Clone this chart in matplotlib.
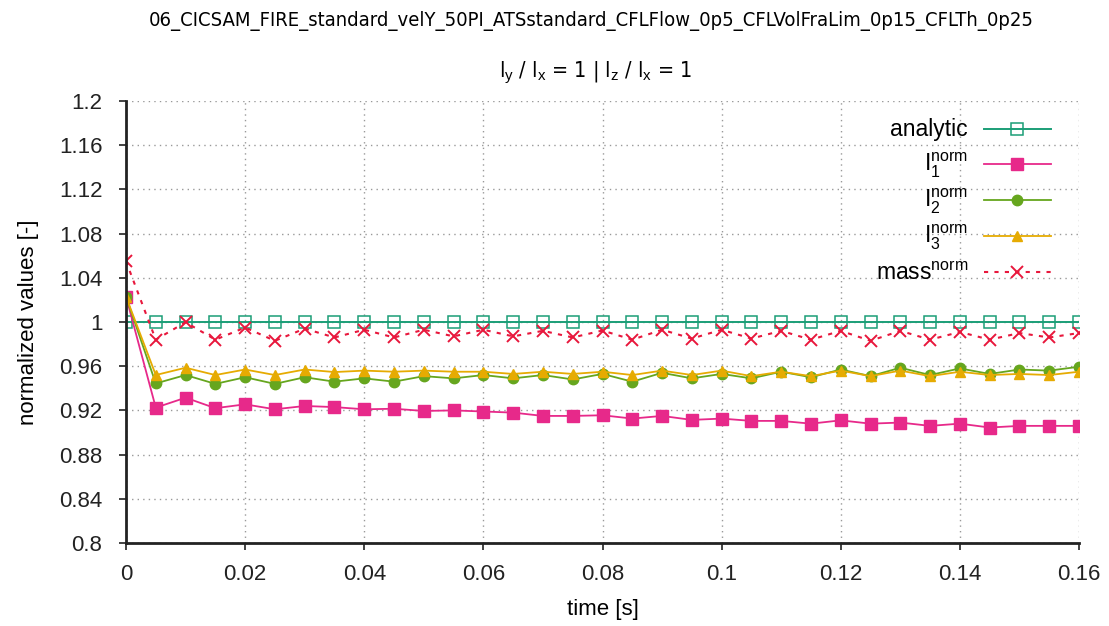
"""
Normalized moments of inertia and mass over time (gnuplot-like look).
"""

import numpy as np
import matplotlib
matplotlib.use("Agg")
import matplotlib.pyplot as plt
from matplotlib.lines import Line2D
from matplotlib import font_manager

plt.rcParams["font.family"] = ["Liberation Sans", "DejaVu Sans"]
plt.rcParams["mathtext.fontset"] = "custom"
plt.rcParams["mathtext.rm"] = "Liberation Sans"
plt.rcParams["mathtext.it"] = "Liberation Sans"
plt.rcParams["mathtext.sf"] = "Liberation Sans"

# ---- data ----
time = np.arange(33) * 0.005

analytic = [1.0] * 33

i1_norm = [1.023, 0.9225, 0.9315, 0.922, 0.9255, 0.921, 0.924, 0.923, 0.921,
           0.9215, 0.9195, 0.920, 0.919, 0.918, 0.915, 0.915, 0.9156, 0.9126,
           0.915, 0.9114, 0.9126, 0.9105, 0.9105, 0.908, 0.911, 0.908, 0.909,
           0.906, 0.908, 0.9045, 0.906, 0.906, 0.906]

i2_norm = [1.023, 0.9444, 0.952, 0.944, 0.950, 0.944, 0.950, 0.946, 0.949,
           0.946, 0.951, 0.949, 0.952, 0.949, 0.952, 0.948, 0.953, 0.946,
           0.954, 0.949, 0.953, 0.949, 0.955, 0.950, 0.957, 0.951, 0.9586,
           0.952, 0.958, 0.953, 0.957, 0.956, 0.9595]

i3_norm = [1.023, 0.952, 0.9586, 0.952, 0.957, 0.952, 0.957, 0.9547, 0.956,
           0.955, 0.956, 0.955, 0.955, 0.953, 0.955, 0.953, 0.955, 0.952,
           0.956, 0.952, 0.956, 0.951, 0.955, 0.951, 0.956, 0.951, 0.956,
           0.951, 0.955, 0.952, 0.953, 0.952, 0.955]

mass_norm = [1.055, 0.984, 0.9998, 0.984, 0.995, 0.983, 0.994, 0.986, 0.993,
             0.986, 0.993, 0.987, 0.993, 0.987, 0.992, 0.986, 0.9923, 0.984,
             0.993, 0.985, 0.993, 0.985, 0.992, 0.984, 0.992, 0.983, 0.992,
             0.984, 0.991, 0.984, 0.990, 0.986, 0.990]

x_ticks = [0, 0.02, 0.04, 0.06, 0.08, 0.1, 0.12, 0.14, 0.16]
x_tick_labels = ["0", "0.02", "0.04", "0.06", "0.08", "0.1", "0.12", "0.14", "0.16"]
y_ticks = [0.8, 0.84, 0.88, 0.92, 0.96, 1.0, 1.04, 1.08, 1.12, 1.16, 1.2]
y_tick_labels = ["0.8", "0.84", "0.88", "0.92", "0.96", "1", "1.04", "1.08",
                 "1.12", "1.16", "1.2"]

title = "06_CICSAM_FIRE_standard_velY_50PI_ATSstandard_CFLFlow_0p5_CFLVolFraLim_0p15_CFLTh_0p25"
subtitle = r"l$_\mathrm{y}$ / l$_\mathrm{x}$ = 1 | l$_\mathrm{z}$ / l$_\mathrm{x}$ = 1"

series = [
    # label, values, style
    ("analytic", analytic,
     dict(color="#1b9e77", lw=1.4, marker="s", ms=8, mfc="none", mew=1.1)),
    (r"I$_\mathrm{1}^\mathrm{norm}$", i1_norm,
     dict(color="#e7298a", lw=1.3, marker="s", ms=8)),
    (r"I$_\mathrm{2}^\mathrm{norm}$", i2_norm,
     dict(color="#66a61e", lw=1.3, marker="o", ms=7.5)),
    (r"I$_\mathrm{3}^\mathrm{norm}$", i3_norm,
     dict(color="#e6ab02", lw=1.3, marker="^", ms=7.5)),
    (r"mass$^\mathrm{norm}$", mass_norm,
     dict(color="#e8173c", lw=1.5, ls=(0, (2, 3)), marker="x", ms=8, mew=1.4)),
]

# condensed face for the title if the system has one
narrow = ["DejaVu Sans", "Liberation Sans"]
try:
    names = {f.name for f in font_manager.fontManager.ttflist if "Narrow" in f.name}
    if "Liberation Sans Narrow" in names:
        narrow = ["Liberation Sans Narrow", "Liberation Sans"]
except Exception:
    pass

fig = plt.figure(figsize=(11.09, 6.26), dpi=100)
ax = fig.add_axes([126 / 1109, 1 - 543 / 626, (1079 - 126) / 1109, (543 - 101) / 626])

for label, vals, style in series:
    ax.plot(time, vals, **style)

ax.set_xlim(0, 0.16)
ax.set_ylim(0.8, 1.2)
ax.set_xticks(x_ticks)
ax.set_xticklabels(x_tick_labels)
ax.set_yticks(y_ticks)
ax.set_yticklabels(y_tick_labels)
ax.tick_params(direction="out", length=5, width=1.2, labelsize=16, colors="#222222")
ax.tick_params(axis="x", pad=10)
ax.tick_params(axis="y", pad=12)
ax.grid(True, color="#999999", ls=(0, (1, 3)), lw=1.0)

for side in ("top", "right"):
    ax.spines[side].set_visible(False)
for side in ("left", "bottom"):
    ax.spines[side].set_linewidth(2.0)
    ax.spines[side].set_color("#222222")

ax.set_xlabel("time [s]", fontsize=16, labelpad=10)
ax.set_ylabel("normalized values [-]", fontsize=16, labelpad=14)

fig.text(0.5335, 0.967, title, ha="center", va="center", fontsize=14.5,
         family=narrow, fontstretch="condensed")
fig.text(0.537, 0.884, subtitle, ha="center", va="center", fontsize=15.5,
         family=narrow, fontstretch="condensed")

# legend drawn by hand: right-aligned labels, sample line to the right
leg_rows = [0.9367, 0.8575, 0.776, 0.6946, 0.6131]
for (label, vals, style), yr in zip(series, leg_rows):
    ax.text(0.8835, yr - 0.017, label, transform=ax.transAxes, ha="right",
            va="baseline", fontsize=16.5)
    line_style = {k: v for k, v in style.items() if k not in ("marker", "ms", "mfc", "mew")}
    ax.add_line(Line2D([0.9003, 0.9706], [yr, yr], transform=ax.transAxes,
                       clip_on=False, **line_style))
    mk_style = {k: v for k, v in style.items() if k not in ("lw", "ls")}
    ax.add_line(Line2D([0.935], [yr], transform=ax.transAxes, clip_on=False,
                       ls="none", **mk_style))

fig.savefig("out.png", dpi=100)
